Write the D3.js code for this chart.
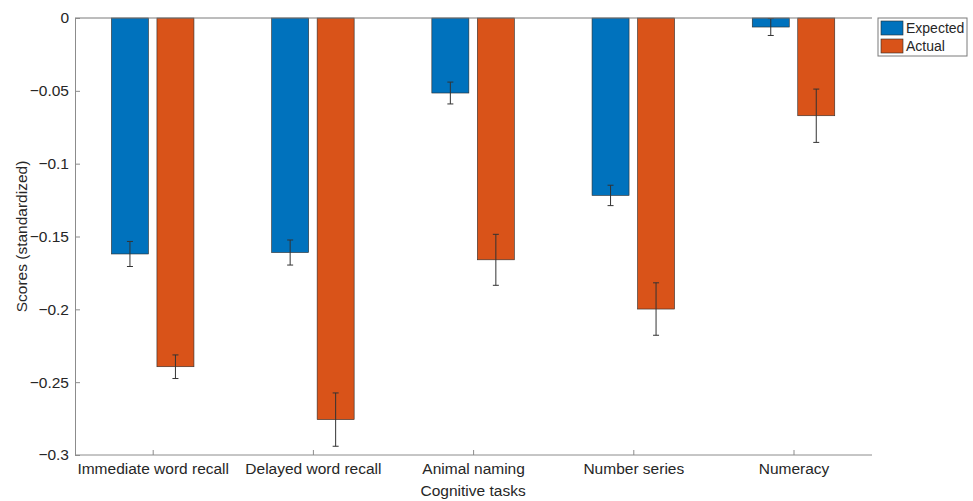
<!DOCTYPE html>
<html>
<head>
<meta charset="utf-8">
<script src="https://cdn.jsdelivr.net/npm/d3@7"></script>
<style>
  body { margin: 0; background: #fff; }
  text { font-family: "Liberation Sans", Arial, sans-serif; fill: #262626; }
</style>
</head>
<body>
<svg id="chart" width="973" height="501"></svg>
<script>
// chart data
var tasks = ["Immediate word recall", "Delayed word recall", "Animal naming", "Number series", "Numeracy"];
var seriesNames = ["Expected", "Actual"];
var expected = [-0.162, -0.161, -0.0515, -0.1218, -0.0062];
var actual = [-0.2394, -0.2757, -0.166, -0.1998, -0.0671];
var expectedErr = [0.0086, 0.0086, 0.0075, 0.007, 0.0058];
var actualErr = [0.0081, 0.0183, 0.0175, 0.018, 0.0183];
var yTicks = [0, -0.05, -0.1, -0.15, -0.2, -0.25, -0.3];

var COLORS = ["#0072BD", "#D95319"];

var margin = {left: 75, right: 101, top: 18, bottom: 46};
var width = 973 - margin.left - margin.right;
var height = 501 - margin.top - margin.bottom;

var svg = d3.select("#chart");
var g = svg.append("g").attr("transform", "translate(" + margin.left + "," + margin.top + ")");

var x = d3.scaleLinear().domain([0.515, 5.49]).range([0, width]);
var y = d3.scaleLinear().domain([-0.3, 0]).range([height, 0]);

var barW = 0.231, offset = 0.142;

var rows = [];
tasks.forEach(function(t, i) {
    rows.push({task: i + 1, s: 0, v: expected[i], e: expectedErr[i]});
    rows.push({task: i + 1, s: 1, v: actual[i], e: actualErr[i]});
});
function cx(d) { return x(d.task + (d.s === 0 ? -offset : offset)); }

// bars
g.selectAll("rect.bar").data(rows).enter().append("rect")
    .attr("class", "bar")
    .attr("x", function(d) { return cx(d) - (x(barW) - x(0)) / 2; })
    .attr("y", y(0))
    .attr("width", x(barW) - x(0))
    .attr("height", function(d) { return y(d.v) - y(0); })
    .attr("fill", function(d) { return COLORS[d.s]; })
    .attr("stroke", "#2b2b2b")
    .attr("stroke-width", 0.6);

// error bars
var eb = g.selectAll("g.err").data(rows).enter().append("g").attr("class", "err")
    .attr("stroke", "#333").attr("stroke-width", 1);
eb.append("line")
    .attr("x1", cx).attr("x2", cx)
    .attr("y1", function(d) { return y(d.v + d.e); })
    .attr("y2", function(d) { return y(d.v - d.e); });
[1, -1].forEach(function(sign) {
    eb.append("line")
        .attr("x1", function(d) { return cx(d) - 3; })
        .attr("x2", function(d) { return cx(d) + 3; })
        .attr("y1", function(d) { return y(d.v + sign * d.e); })
        .attr("y2", function(d) { return y(d.v + sign * d.e); });
});

// baseline at zero
g.append("line").attr("x1", 0).attr("x2", width).attr("y1", y(0)).attr("y2", y(0))
    .attr("stroke", "#7a7a7a").attr("stroke-width", 1);

// y axis
var yAxis = g.append("g")
    .call(d3.axisLeft(y).tickValues(yTicks).tickSize(-5).tickPadding(6)
        .tickFormat(function(d) { return d === 0 ? "0" : d3.format("")(+d.toFixed(2)); }));
yAxis.select(".domain").attr("stroke", "#8c8c8c");
yAxis.selectAll(".tick line").attr("stroke", "#8c8c8c");
yAxis.selectAll("text").style("font-size", "15.5px").attr("fill", "#262626")
    .attr("font-family", "Liberation Sans, Arial, sans-serif");

// x axis
var xAxis = g.append("g").attr("transform", "translate(0," + height + ")")
    .call(d3.axisBottom(x).tickValues([1, 2, 3, 4, 5]).tickSize(-5).tickPadding(8)
        .tickFormat(function(d) { return tasks[d - 1]; }));
xAxis.select(".domain").attr("stroke", "#8c8c8c").attr("d", "M0.5,0H" + width);
xAxis.selectAll(".tick line").attr("stroke", "#8c8c8c");
xAxis.selectAll("text").style("font-size", "15.5px").attr("fill", "#262626")
    .attr("font-family", "Liberation Sans, Arial, sans-serif");

// axis labels
svg.append("text").attr("x", margin.left + x(3)).attr("y", 496)
    .attr("text-anchor", "middle").style("font-size", "15.5px").text("Cognitive tasks");
svg.append("text").attr("transform", "translate(27," + (margin.top + height / 2) + ") rotate(-90)")
    .attr("text-anchor", "middle").style("font-size", "15.5px").text("Scores (standardized)");

// legend
var lg = svg.append("g").attr("transform", "translate(878,18)");
lg.append("rect").attr("width", 89).attr("height", 38)
    .attr("fill", "#fff").attr("stroke", "#7a7a7a").attr("stroke-width", 1);
seriesNames.forEach(function(name, i) {
    lg.append("rect").attr("x", 3).attr("y", 3 + i * 18).attr("width", 22).attr("height", 14)
        .attr("fill", COLORS[i]).attr("stroke", "#2b2b2b").attr("stroke-width", 0.6);
    lg.append("text").attr("x", 28).attr("y", 15 + i * 18)
        .style("font-size", "14px").text(name);
});
</script>
</body>
</html>
